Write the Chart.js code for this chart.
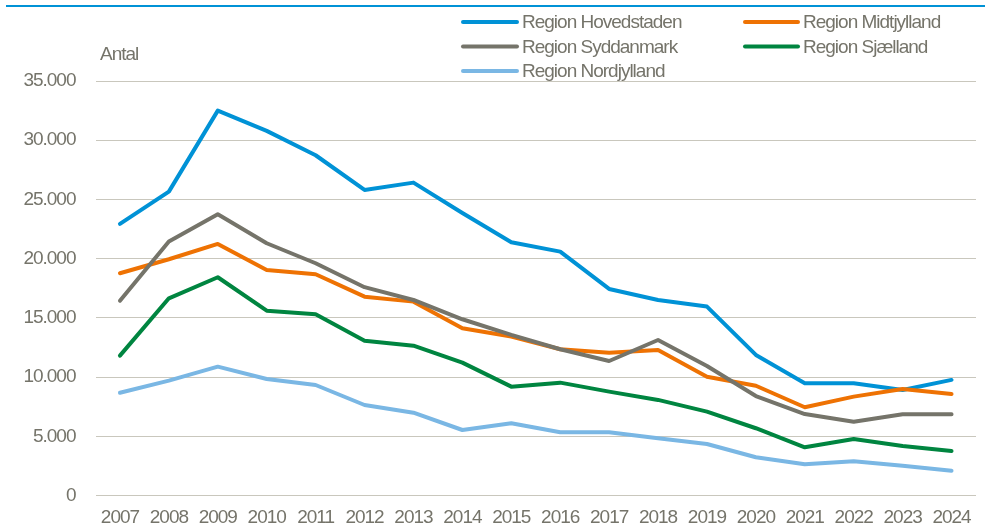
<!DOCTYPE html>
<html>
<head>
<meta charset="utf-8">
<script src="https://cdn.jsdelivr.net/npm/chart.js@4/dist/chart.umd.min.js"></script>
<style>
  html, body { margin: 0; padding: 0; background: #fff; }
  #wrap { width: 985px; height: 528px; position: relative; }
</style>
</head>
<body>
<div id="wrap"><canvas id="regionChart"></canvas></div>
<script>
// Data
const years = ['2007', '2008', '2009', '2010', '2011', '2012', '2013', '2014', '2015',
  '2016', '2017', '2018', '2019', '2020', '2021', '2022', '2023', '2024'];

const hovedstaden = [22930, 25660, 32500, 30790, 28730, 25800, 26420, 23860, 21380,
  20590, 17440, 16510, 15950, 11870, 9480, 9480, 8910, 9760];
const midtjylland = [18770, 19950, 21240, 19050, 18680, 16790, 16370, 14120, 13420,
  12350, 12060, 12290, 10030, 9270, 7450, 8350, 8990, 8570];
const syddanmark = [16450, 21440, 23750, 21300, 19610, 17590, 16510, 14880, 13560,
  12350, 11360, 13130, 10940, 8400, 6880, 6230, 6860, 6860];
const sjaelland = [11810, 16650, 18430, 15610, 15300, 13070, 12650, 11220, 9190,
  9530, 8770, 8070, 7080, 5680, 4070, 4770, 4180, 3760];
const nordjylland = [8680, 9700, 10880, 9840, 9330, 7640, 6990, 5530, 6100,
  5340, 5340, 4830, 4350, 3230, 2640, 2890, 2520, 2090];

const seriesNames = ['Region Hovedstaden', 'Region Midtjylland', 'Region Syddanmark',
  'Region Sjælland', 'Region Nordjylland'];
const seriesValues = [hovedstaden, midtjylland, syddanmark, sjaelland, nordjylland];
const seriesColors = ['#0092d6', '#ee7203', '#75746a', '#008540', '#7ab7e4'];

const yMax = 35000;
const yStep = 5000;
const yTitle = 'Antal';

const textColor = '#75746a';
const fontFamily = '"Liberation Sans", Arial, sans-serif';

// Danish thousands separator
function formatDa(v) {
  return String(v).replace(/\B(?=(\d{3})+(?!\d))/g, '.');
}

// no narrow font available, so tighten the letters a bit
const tightText = {
  id: 'tightText',
  beforeDraw(chart) {
    chart.ctx.letterSpacing = '-1px';
  }
};

// Top rule, y-axis title and the two-column legend
const decorations = {
  id: 'decorations',
  afterDraw(chart) {
    const ctx = chart.ctx;
    ctx.save();
    ctx.fillStyle = '#0092d6';
    ctx.fillRect(6, 5, 979, 2);

    ctx.letterSpacing = '-1px';
    ctx.font = '19px ' + fontFamily;
    ctx.fillStyle = textColor;
    ctx.textBaseline = 'middle';
    ctx.textAlign = 'left';
    ctx.fillText(yTitle, 100, 55);

    const cols = [[463, 517, 522], [745, 798, 803]];
    const rows = [22, 46.5, 71];
    chart.data.datasets.forEach((ds, i) => {
      const c = cols[i % 2];
      const y = rows[Math.floor(i / 2)];
      ctx.strokeStyle = ds.borderColor;
      ctx.lineWidth = 4;
      ctx.lineCap = 'round';
      ctx.beginPath();
      ctx.moveTo(c[0], y);
      ctx.lineTo(c[1], y);
      ctx.stroke();
      ctx.fillStyle = textColor;
      ctx.fillText(ds.label, c[2], y + 1);
    });
    ctx.restore();
  }
};

new Chart(document.getElementById('regionChart'), {
  type: 'line',
  data: {
    labels: years,
    datasets: seriesValues.map((vals, i) => ({
      label: seriesNames[i],
      data: vals,
      borderColor: seriesColors[i],
      backgroundColor: seriesColors[i],
      borderWidth: 4,
      pointRadius: 0,
      pointHoverRadius: 0,
      tension: 0,
      borderCapStyle: 'round',
      borderJoinStyle: 'round',
      order: 10 - i,
    })),
  },
  options: {
    responsive: true,
    maintainAspectRatio: false,
    animation: false,
    layout: { padding: { top: 81, right: 9, left: 0, bottom: 0 } },
    plugins: {
      legend: { display: false },
      tooltip: { enabled: false },
    },
    scales: {
      x: {
        offset: true,
        grid: { display: false, drawTicks: false },
        border: { display: false },
        ticks: {
          color: textColor,
          padding: 11,
          maxRotation: 0,
          autoSkip: false,
          font: { family: fontFamily, size: 19 },
        },
        afterFit: (scale) => { scale.height = 32.5; },
      },
      y: {
        min: 0,
        max: yMax,
        grid: { color: '#c9c7bd', lineWidth: 1, drawTicks: false },
        border: { display: false },
        ticks: {
          stepSize: yStep,
          color: textColor,
          padding: 20,
          font: { family: fontFamily, size: 19 },
          callback: (v) => formatDa(v),
        },
        afterFit: (scale) => { scale.width = 95.5; },
      },
    },
  },
  plugins: [tightText, decorations],
});
</script>
</body>
</html>
